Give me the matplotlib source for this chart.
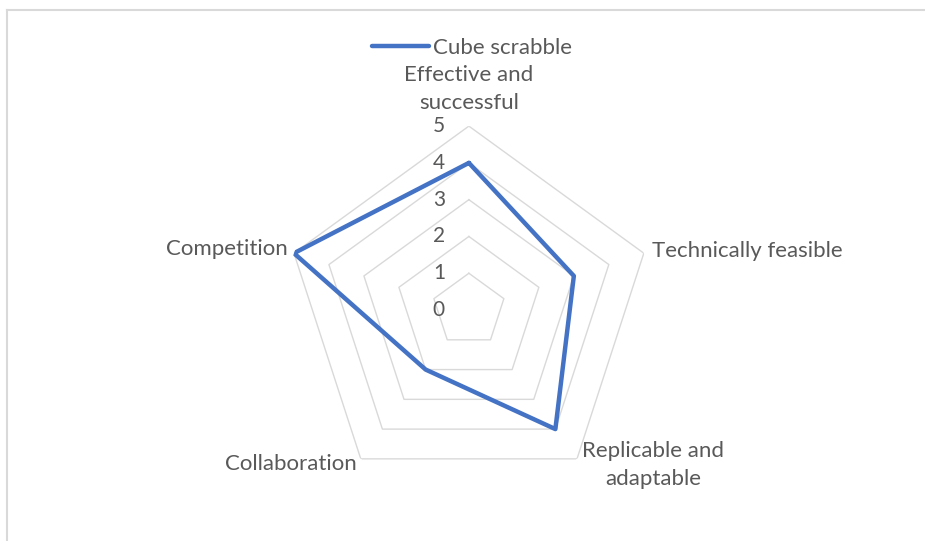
import numpy as np
import matplotlib.pyplot as plt
from matplotlib.lines import Line2D

categories = ["Effective and\nsuccessful", "Technically feasible",
              "Replicable and\nadaptable", "Collaboration", "Competition"]
values = [4, 3, 4, 2, 5]
series_name = "Cube scrabble"
ring_levels = [1, 2, 3, 4, 5]
tick_labels = ["0", "1", "2", "3", "4", "5"]

BLUE = "#4472C4"
GRID = "#d9d9d9"
TEXT = "#595959"
PX = 0.72  # points per pixel at dpi 100
FS = 16

plt.rcParams['font.family'] = ['Lato', 'DejaVu Sans']

fig = plt.figure(figsize=(9.25, 5.41), dpi=100)
ax = fig.add_axes([0.308, 0.0869, 0.3978, 0.680], projection='polar')
ax.set_theta_zero_location('N')
ax.set_theta_direction(-1)
ax.set_ylim(0, 5)
ax.grid(False)
ax.spines['polar'].set_visible(False)
ax.set_xticks([])
ax.set_yticks([])
ax.patch.set_alpha(0)

n = len(categories)
angles = np.linspace(0, 2 * np.pi, n, endpoint=False)
closed = np.append(angles, angles[0])

# pentagon rings
for lv in ring_levels:
    ax.plot(closed, [lv] * (n + 1), color=GRID, lw=1.0, zorder=1)

# series
vals = values + values[:1]
line, = ax.plot(closed, vals, color=BLUE, lw=3.2, solid_joinstyle='round',
                solid_capstyle='round', zorder=3, label=series_name)

# radial tick labels
for i, t in enumerate(tick_labels):
    ax.annotate(t, xy=(0, i), xytext=(-30 * PX, 0), textcoords='offset points',
                ha='center', va='center', fontsize=15, color=TEXT)

# category labels (offsets in pixels: dx right, dy down)
offsets = [(0, -13, 'center', 'bottom'), (8, -2, 'left', 'center'),
           (76, 6.5, 'center', 'center'), (-4, 5, 'right', 'center'),
           (-6, -4, 'right', 'center')]
for ang, cat, (dx, dy, ha, va) in zip(angles, categories, offsets):
    ax.annotate(cat, xy=(ang, 5), xytext=(dx * PX, -dy * PX),
                textcoords='offset points', ha=ha, va=va, fontsize=FS,
                color=TEXT, linespacing=1.5, annotation_clip=False)

fig.legend(handles=[line], loc='center', bbox_to_anchor=(0.510, 0.911),
           frameon=False, handlelength=2.6, handletextpad=0.15,
           fontsize=FS, labelcolor=TEXT)

# chart border (only top and left edges visible)
fig.add_artist(Line2D([7 / 925, 1], [1 - 10 / 541] * 2, color=GRID, lw=1.5,
                      transform=fig.transFigure))
fig.add_artist(Line2D([7 / 925] * 2, [0, 1 - 10 / 541], color=GRID, lw=1.5,
                      transform=fig.transFigure))

fig.savefig("out.png", dpi=100)
